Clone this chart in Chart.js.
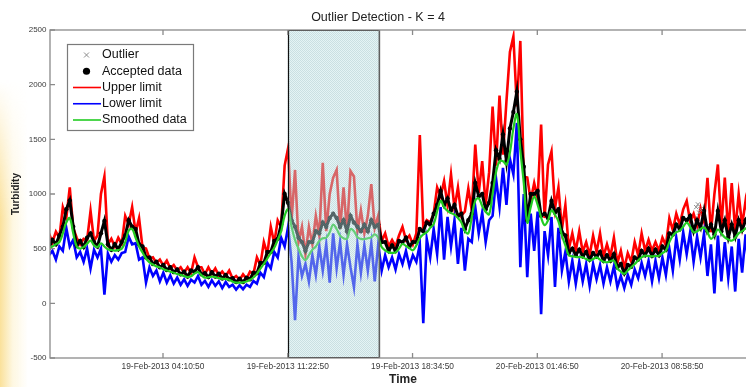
<!DOCTYPE html>
<html>
<head>
<meta charset="utf-8">
<script src="https://cdn.jsdelivr.net/npm/chart.js@4.4.1/dist/chart.umd.min.js"></script>
<style>
  html, body { margin: 0; padding: 0; background: #fff; overflow: hidden; }
  #glow {
    position: absolute; left: 0; top: 80px; width: 28px; height: 307px;
    background: linear-gradient(to right, rgba(248,214,120,0.75), rgba(253,236,180,0.4) 45%, rgba(255,255,255,0));
    -webkit-mask-image: linear-gradient(to bottom, transparent, #000 45%);
    mask-image: linear-gradient(to bottom, transparent, #000 45%);
  }
  #box { position: absolute; left: 0; top: 0; width: 770px; height: 387px; }
</style>
</head>
<body>
<div id="glow"></div>
<div id="box"><canvas id="turbChart"></canvas></div>
<script>
// sampling grid of the turbidity record
const startTime = '18-Feb-2013 21:36:00';
const stepMinutes = 12;
const axisRange = ['18-Feb-2013 21:39:36', '20-Feb-2013 14:24:00'];
const xTickLabels = ['19-Feb-2013 04:10:50', '19-Feb-2013 11:22:50', '19-Feb-2013 18:34:50',
                     '20-Feb-2013 01:46:50', '20-Feb-2013 08:58:50'];
const yTicks = [-500, 0, 500, 1000, 1500, 2000, 2500];
const suspectWindow = ['19-Feb-2013 11:22:50', '19-Feb-2013 16:40:00'];

const smoothed = [
  512, 520, 540, 560, 640, 740, 780, 640, 520, 500,
  515, 545, 573, 530, 515, 548, 520, 495, 488, 482,
  488, 500, 560, 665, 680, 600, 520, 465, 410, 375,
  355, 338, 328, 312, 300, 290, 280, 268, 260, 250,
  240, 248, 272, 285, 258, 235, 238, 244, 240, 230,
  224, 222, 216, 198, 190, 190, 192, 200, 215, 236,
  270, 318, 360, 410, 460, 508, 580, 660, 800, 860,
  700, 580, 500, 430, 395, 440, 490, 520, 570, 595,
  600, 650, 720, 680, 620, 595, 590, 680, 660, 605,
  590, 588, 595, 605, 630, 600, 515, 485, 466, 462,
  466, 500, 542, 525, 505, 485, 530, 595, 630, 650,
  690, 725, 840, 936, 880, 845, 825, 812, 780, 740,
  660, 640, 790, 940, 960, 890, 840, 815, 1000, 1200,
  1300, 1300, 1270, 1380, 1600, 1730, 1400, 1100, 740, 880,
  975, 900, 785, 715, 760, 850, 810, 750, 620, 530,
  440, 430, 425, 422, 420, 405, 392, 405, 420, 400,
  380, 376, 385, 390, 320, 290, 270, 300, 330, 360,
  392, 420, 436, 432, 430, 432, 436, 460, 482, 560,
  620, 650, 665, 700, 738, 700, 650, 660, 680, 694,
  650, 590, 620, 675, 640, 603, 585, 573, 600, 640,
  660, 685, 694, 680, 660, 650
];
const upperLimit = [
  640, 560, 655, 600, 880, 780, 1060, 690, 600, 540,
  590, 580, 845, 570, 620, 1000, 1160, 540, 590, 520,
  600, 545, 800, 720, 880, 650, 780, 510, 500, 410,
  420, 370, 400, 345, 390, 320, 350, 300, 330, 280,
  330, 275, 420, 330, 330, 265, 330, 270, 320, 255,
  290, 250, 300, 225, 250, 215, 265, 225, 290, 270,
  420, 350, 560, 450, 700, 550, 760, 700, 1260, 1420,
  760, 1220, 560, 700, 450, 700, 540, 800, 620, 1285,
  660, 1000, 1150, 1220, 680, 1060, 650, 1210, 1160, 660,
  850, 640, 800, 1090, 690, 800, 570, 640, 520, 580,
  520, 620, 700, 580, 620, 540, 640, 1540, 690, 760,
  740, 820, 1060, 980, 1118, 900, 1180, 870, 1060, 800,
  840, 1050, 850, 1452, 1010, 1300, 900, 1200, 1800, 1260,
  1900, 1360, 1850, 2300, 2440, 1800, 2400, 1160, 1150, 940,
  1100, 960, 1636, 780, 1270, 1390, 870, 1060, 680, 900,
  500, 640, 480, 660, 470, 560, 440, 620, 470, 640,
  430, 540, 430, 600, 370, 480, 320, 460, 380, 560,
  440, 640, 480, 580, 480, 560, 480, 600, 530, 780,
  670, 820, 720, 860, 936, 750, 820, 710, 870, 750,
  1148, 650, 1000, 1270, 700, 1150, 640, 1100, 660, 1000,
  710, 940, 750, 900, 710, 880
];
const lowerLimit = [
  440, 480, 400, 520, 480, 690, 520, 580, 420, 470,
  380, 500, 320, 490, 420, 500, 80, 455, 380, 440,
  400, 460, 470, 610, 540, 550, 400, 420, 191, 330,
  250, 300, 200, 280, 190, 255, 180, 235, 170, 220,
  160, 215, 190, 250, 170, 205, 150, 210, 160, 200,
  140, 195, 150, 170, 125, 165, 130, 170, 150, 205,
  180, 280, 240, 370, 320, 470, 420, 600, 520, 700,
  380, -155, 430, 250, 360, 200, 440, 260, 520, 300,
  540, 190, 640, 320, 560, 260, 540, 330, 148, 540,
  280, 530, 300, 550, 200, 540, 300, 440, 330, 420,
  310, 450, 360, 480, 340, 440, 380, 540, -182, 590,
  420, 680, 450, 880, 400, 790, 520, 760, 360, 690,
  300, 590, 560, 880, 640, 830, 560, 760, 800, 1140,
  880, 1240, 900, 1320, 1180, 1650, 330, 1000, 240, 820,
  480, 840, -100, 660, 440, 790, 150, 690, 300, 470,
  200, 390, 180, 380, 200, 360, 160, 360, 220, 350,
  180, 330, 200, 340, 150, 250, 140, 260, 170, 310,
  230, 370, 250, 390, 200, 390, 230, 420, 260, 500,
  300, 600, 400, 650, 450, 650, 380, 610, 420, 640,
  250, 540, 90, 620, 200, 560, 230, 520, 108, 590,
  280, 630, 250, 630, 300, 600
];
const accepted = [
  505, 580, 540, 620, 700, 860, 940, 700, 530, 570,
  515, 600, 640, 560, 520, 640, 754, 540, 490, 540,
  495, 560, 620, 760, 700, 680, 540, 520, 420, 420,
  360, 380, 330, 350, 305, 330, 285, 310, 265, 290,
  245, 300, 290, 330, 265, 275, 240, 285, 245, 270,
  228, 260, 220, 230, 195, 225, 195, 235, 220, 280,
  275, 370, 370, 470, 470, 570, 590, 720, 1000, 920,
  760, 700, 600, 560, 480, 560, 560, 660, 640, 740,
  700, 780, 820, 780, 700, 760, 660, 800, 740, 700,
  660, 720, 660, 760, 700, 720, 560, 560, 480, 530,
  480, 570, 560, 600, 520, 560, 560, 680, 660, 740,
  720, 820, 900, 1027, 900, 960, 850, 900, 800, 820,
  680, 760, 820, 1100, 980, 1000, 860, 920, 1100, 1400,
  1320, 1545, 1300, 1600, 1750, 1936, 1500, 1250, 760, 1000,
  1000, 1027, 800, 820, 780, 936, 830, 860, 650, 620,
  460, 500, 440, 490, 430, 470, 400, 460, 425, 470,
  390, 440, 390, 450, 330, 360, 275, 350, 335, 420,
  400, 480, 440, 500, 435, 490, 440, 520, 490, 640,
  630, 720, 680, 780, 760, 800, 660, 760, 690, 845,
  660, 720, 630, 845, 660, 760, 600, 720, 610, 760,
  670, 760, 700, 760, 670, 720
];
const outlierHours = [34.95, 35.05, 35.12, 35.2];
const outlierValues = [880, 905, 830, 860];

// hours counted from 19-Feb-2013 00:00:00
function toHours(s) {
  const m = s.match(/^(\d+)-\w+-\d+ (\d+):(\d+):(\d+)$/);
  return (m[1] - 19) * 24 + (+m[2]) + m[3] / 60 + m[4] / 3600;
}
const t0 = toHours(startTime);
const times = smoothed.map((_, i) => t0 + i * stepMinutes / 60);
const pts = arr => arr.map((y, i) => ({ x: times[i], y }));
const outlierPts = outlierHours.map((x, i) => ({ x, y: outlierValues[i] }));

// dotted fill for the marked window
const tile = document.createElement('canvas');
tile.width = 2; tile.height = 2;
const tctx = tile.getContext('2d');
tctx.fillStyle = 'rgba(110,150,160,0.22)';
tctx.fillRect(0, 0, 1, 1);
tctx.fillRect(1, 1, 1, 1);

const frame = {
  id: 'frame',
  afterDatasetsDraw(chart) {
    const { ctx, chartArea: a, scales: { x } } = chart;
    const x0 = x.getPixelForValue(toHours(suspectWindow[0]));
    const x1 = x.getPixelForValue(toHours(suspectWindow[1]));
    ctx.save();
    ctx.fillStyle = 'rgba(190,228,232,0.42)';
    ctx.fillRect(x0, a.top, x1 - x0, a.bottom - a.top);
    ctx.fillStyle = ctx.createPattern(tile, 'repeat');
    ctx.fillRect(x0, a.top, x1 - x0, a.bottom - a.top);
    ctx.strokeStyle = '#111';
    ctx.lineWidth = 1.2;
    ctx.beginPath();
    ctx.moveTo(Math.round(x0) + 0.5, a.bottom);
    ctx.lineTo(Math.round(x0) + 0.5, a.top + 0.5);
    ctx.lineTo(x1, a.top + 0.5);
    ctx.moveTo(x0, a.bottom - 0.5);
    ctx.lineTo(x1, a.bottom - 0.5);
    ctx.stroke();
    ctx.strokeStyle = '#606060';
    ctx.lineWidth = 1.6;
    ctx.beginPath();
    ctx.moveTo(x1, a.top); ctx.lineTo(x1, a.bottom);
    ctx.stroke();
    ctx.restore();
  },
  afterDraw(chart) {
    const { ctx, chartArea: a, scales: { x, y } } = chart;
    ctx.save();
    // axes box with inward ticks
    ctx.strokeStyle = '#8a8a8a';
    ctx.lineWidth = 1.3;
    ctx.strokeRect(a.left, a.top, a.right - a.left, a.bottom - a.top);
    ctx.beginPath();
    x.ticks.forEach(t => {
      const px = x.getPixelForValue(t.value);
      ctx.moveTo(px, a.bottom); ctx.lineTo(px, a.bottom - 5);
      ctx.moveTo(px, a.top); ctx.lineTo(px, a.top + 5);
    });
    y.ticks.forEach(t => {
      const py = y.getPixelForValue(t.value);
      ctx.moveTo(a.left, py); ctx.lineTo(a.left + 5, py);
      ctx.moveTo(a.right, py); ctx.lineTo(a.right - 5, py);
    });
    ctx.stroke();

    // legend box
    const lx = a.left + 17, ly = a.top + 14, lw = 126, lh = 86;
    ctx.fillStyle = '#fff';
    ctx.fillRect(lx, ly, lw, lh);
    ctx.strokeStyle = '#7a7a7a';
    ctx.lineWidth = 1.2;
    ctx.strokeRect(lx + 0.5, ly + 0.5, lw, lh);
    ctx.font = '12.5px "Liberation Sans", Arial, sans-serif';
    ctx.textBaseline = 'middle';
    chart.data.datasets.forEach((ds, k) => {
      const yy = ly + 11 + k * 16.25;
      const cx = lx + 19.5;
      if (ds.pointStyle === 'crossRot') {
        ctx.strokeStyle = ds.borderColor;
        ctx.lineWidth = 1;
        ctx.beginPath();
        ctx.moveTo(cx - 2.5, yy - 2.5); ctx.lineTo(cx + 2.5, yy + 2.5);
        ctx.moveTo(cx + 2.5, yy - 2.5); ctx.lineTo(cx - 2.5, yy + 2.5);
        ctx.stroke();
      } else if (ds.pointRadius > 0) {
        ctx.fillStyle = ds.borderColor;
        ctx.beginPath();
        ctx.arc(cx, yy, 3.6, 0, Math.PI * 2);
        ctx.fill();
      } else {
        ctx.strokeStyle = ds.borderColor;
        ctx.lineWidth = 1.6;
        ctx.beginPath();
        ctx.moveTo(lx + 6, yy); ctx.lineTo(lx + 34, yy);
        ctx.stroke();
      }
      ctx.fillStyle = '#111';
      ctx.fillText(ds.label, lx + 35, yy);
    });
    ctx.restore();
  }
};

new Chart(document.getElementById('turbChart'), {
  type: 'line',
  data: {
    datasets: [
      { label: 'Outlier', type: 'scatter', data: outlierPts, pointStyle: 'crossRot',
        pointRadius: 3, borderColor: '#8c8c8c', borderWidth: 1, order: 0 },
      { label: 'Accepted data', data: pts(accepted), borderColor: '#000', backgroundColor: '#000',
        borderWidth: 3, pointRadius: 2.2, pointBorderWidth: 0, order: 2 },
      { label: 'Upper limit', data: pts(upperLimit), borderColor: '#ff0000',
        borderWidth: 2.6, pointRadius: 0, order: 4 },
      { label: 'Lower limit', data: pts(lowerLimit), borderColor: '#0000ff',
        borderWidth: 2.6, pointRadius: 0, order: 3 },
      { label: 'Smoothed data', data: pts(smoothed), borderColor: '#22cc22',
        borderWidth: 2.2, pointRadius: 0, tension: 0.4, order: 1 }
    ]
  },
  options: {
    responsive: true,
    maintainAspectRatio: false,
    animation: false,
    layout: { padding: { left: 0, right: 14, top: 0, bottom: 0 } },
    scales: {
      x: {
        type: 'linear',
        min: toHours(axisRange[0]),
        max: toHours(axisRange[1]),
        grid: { display: false, drawTicks: false },
        border: { display: false },
        afterBuildTicks: s => { s.ticks = xTickLabels.map(l => ({ value: toHours(l) })); },
        afterFit: s => { s.height = 29; },
        ticks: {
          autoSkip: false, maxRotation: 0, padding: 4, color: '#3a3a3a',
          font: { family: 'Liberation Sans', size: 8.4 },
          callback: (v, i) => xTickLabels[i]
        },
        title: {
          display: true, text: 'Time', color: '#222', padding: { top: 0, bottom: 0 },
          font: { family: 'Liberation Sans', size: 12, weight: 'bold' }
        }
      },
      y: {
        min: yTicks[0],
        max: yTicks[yTicks.length - 1],
        grid: { display: false, drawTicks: false },
        border: { display: false },
        afterBuildTicks: s => { s.ticks = yTicks.map(v => ({ value: v })); },
        afterFit: s => { s.width = 50; },
        ticks: {
          padding: 3.5, color: '#3a3a3a', font: { family: 'Liberation Sans', size: 8 },
          callback: v => String(v)
        },
        title: {
          display: true, text: 'Turbidity', color: '#222', padding: { top: 10, bottom: 0 },
          font: { family: 'Liberation Sans', size: 10, weight: 'bold' }
        }
      }
    },
    plugins: {
      legend: { display: false },
      tooltip: { enabled: false },
      title: {
        display: true,
        text: 'Outlier Detection - K = 4',
        color: '#222',
        font: { family: 'Liberation Sans', size: 12.5, weight: 'normal' },
        padding: { top: 10.5, bottom: 4.5 }
      }
    }
  },
  plugins: [frame]
});
</script>
</body>
</html>
